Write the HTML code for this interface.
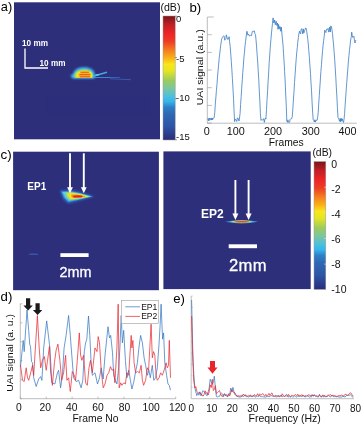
<!DOCTYPE html>
<html lang="en"><head><meta charset="utf-8"><title>Figure</title>
<style>html,body{margin:0;padding:0;background:#fff;}body{width:361px;height:425px;overflow:hidden;}svg text{white-space:pre;}</style></head>
<body>
<svg width="361" height="425" viewBox="0 0 361 425" font-family='"Liberation Sans", Arial, sans-serif' style="display:block">
<defs>
<linearGradient id="cbA" x1="0" y1="0" x2="0" y2="1">
<stop offset="0" stop-color="#7a1518"/>
<stop offset="0.07" stop-color="#c02026"/>
<stop offset="0.14" stop-color="#ee2425"/>
<stop offset="0.205" stop-color="#ef3b24"/>
<stop offset="0.272" stop-color="#f47a20"/>
<stop offset="0.34" stop-color="#fbb216"/>
<stop offset="0.39" stop-color="#f8e71c"/>
<stop offset="0.44" stop-color="#e6e621"/>
<stop offset="0.52" stop-color="#9ccb5e"/>
<stop offset="0.58" stop-color="#7cc79a"/>
<stop offset="0.65" stop-color="#4abfe0"/>
<stop offset="0.69" stop-color="#35b5ea"/>
<stop offset="0.735" stop-color="#2d80c8"/>
<stop offset="0.79" stop-color="#2f68b4"/>
<stop offset="0.89" stop-color="#2e55a5"/>
<stop offset="0.96" stop-color="#2b3a8a"/>
<stop offset="1" stop-color="#2a2d75"/>
</linearGradient>
<filter id="b1" x="-30%" y="-30%" width="160%" height="160%"><feGaussianBlur stdDeviation="1"/></filter>
<filter id="b07" x="-30%" y="-30%" width="160%" height="160%"><feGaussianBlur stdDeviation="0.7"/></filter>
<filter id="b05" x="-30%" y="-50%" width="160%" height="200%"><feGaussianBlur stdDeviation="0.5"/></filter>
<filter id="b15" x="-30%" y="-30%" width="160%" height="160%"><feGaussianBlur stdDeviation="1.5"/></filter>
</defs>
<rect width="361" height="425" fill="#fff"/>
<rect x="14" y="2.3" width="146" height="137" fill="#2d2f7b"/>
<rect x="46" y="95" width="104.5" height="20" fill="#2c2e7e" opacity="0.7"/>
<g>
<path d="M92 77.2L112 77.6" stroke="#3c86d6" stroke-width="1.6" fill="none" filter="url(#b07)"/>
<path d="M110 77.6L120 77.9" stroke="#3768be" stroke-width="1.2" fill="none" filter="url(#b07)"/>
<path d="M92.5 76.2L100 74.2L107 72.2" stroke="#48a4e4" stroke-width="1.5" fill="none" filter="url(#b07)"/>
<path d="M93 76L99 74.5" stroke="#5cc8ea" stroke-width="1.4" fill="none" filter="url(#b07)"/>
<path d="M110 78.8L131 79.7" stroke="#3a5cb4" stroke-width="0.9" fill="none" filter="url(#b05)"/>
<path d="M70.3 75.4L72 78.6H95V75C95 69.5 90 67 84 67C77 67 73.5 70.3 73 74.3Z" fill="#3a7fd2" filter="url(#b1)"/>
<path d="M71.3 75.5L73.5 78H93.8V75C93.8 70.4 89.5 68.3 84 68.3C78 68.3 74.4 71 74 74.6Z" fill="#4fcfe2" filter="url(#b1)"/>
<path d="M74.6 77.8H92.8V75C92.8 71.3 89 69.5 84 69.5C79 69.5 75 71.4 74.6 75Z" fill="#9fd868" filter="url(#b07)"/>
<path d="M76 77.6H92V75C92 72.2 88.8 70.8 84.2 70.8C79.6 70.8 76.2 72.4 76 75Z" fill="#f4de22" filter="url(#b07)"/>
<path d="M78.4 77.2H90.6V74.8C90.6 72.8 88 71.7 84.6 71.7C81 71.7 78.4 73 78.4 75Z" fill="#f8b81e" filter="url(#b07)"/>
<path d="M80.5 72.2H89M79.5 74.7H90.3M80 76.8H90" stroke="#ec4a28" stroke-width="1" fill="none" filter="url(#b05)"/>
</g>
<path d="M25 48.5V68H48" stroke="#fff" stroke-width="1.3" fill="none"/>
<text x="22" y="46.3" font-size="8.2" font-weight="bold" fill="#fff">10 mm</text>
<text x="39.5" y="65.8" font-size="8.2" font-weight="bold" fill="#fff">10 mm</text>
<text x="0.8" y="10.6" font-size="12.8" fill="#000">a)</text>
<rect x="163" y="16" width="12.2" height="124" fill="url(#cbA)"/>
<rect x="163" y="16" width="12.2" height="124" fill="none" stroke="#9a9a9a" stroke-width="0.5"/>
<path d="M175.2 16.2H177" stroke="#555" stroke-width="0.6"/>
<path d="M175.2 57.5H177" stroke="#555" stroke-width="0.6"/>
<path d="M175.2 98.7H177" stroke="#555" stroke-width="0.6"/>
<path d="M175.2 139.8H177" stroke="#555" stroke-width="0.6"/>
<text x="160.4" y="11.4" font-size="10.6" fill="#111">(dB)</text>
<text x="176" y="22.3" font-size="9.5" fill="#111">0</text>
<text x="176" y="62" font-size="9.5" fill="#111">-5</text>
<text x="176" y="100.8" font-size="9.5" fill="#111">-10</text>
<text x="176" y="140.4" font-size="9.5" fill="#111">-15</text>
<text x="189.4" y="12.2" font-size="13.2" fill="#000">b)</text>
<path d="M207.3 17V123.2H356.8" stroke="#a0a0a0" stroke-width="0.7" fill="none"/>
<path d="M207.3 17.0h6.5" stroke="#a0a0a0" stroke-width="0.7"/>
<path d="M207.3 34.7h4.5" stroke="#a0a0a0" stroke-width="0.7"/>
<path d="M207.3 52.4h4.5" stroke="#a0a0a0" stroke-width="0.7"/>
<path d="M207.3 70.0h4.5" stroke="#a0a0a0" stroke-width="0.7"/>
<path d="M207.3 87.7h4.5" stroke="#a0a0a0" stroke-width="0.7"/>
<path d="M207.3 105.4h4.5" stroke="#a0a0a0" stroke-width="0.7"/>
<path d="M207.3 123.1h4.5" stroke="#a0a0a0" stroke-width="0.7"/>
<path d="M207.6 119.3L208.2 118.4L208.7 120.8L209.3 118.0L209.8 120.3L210.4 119.5L210.9 118.0L211.5 120.1L212.0 117.9L212.6 119.8L213.1 118.0L213.7 118.1L214.2 117.5L214.8 112.2L215.3 104.1L215.9 97.1L216.4 90.6L217.0 84.2L217.5 77.0L218.1 70.3L218.6 65.1L219.2 58.2L219.7 54.2L220.3 48.8L220.8 44.5L221.4 40.9L221.9 38.2L222.5 37.3L223.0 36.5L223.6 35.8L224.1 36.0L224.7 40.2L225.2 39.5L225.8 38.8L226.3 34.8L226.9 36.8L227.4 39.1L228.0 39.6L228.5 39.1L229.1 36.7L229.6 41.7L230.2 46.6L230.7 53.2L231.3 61.4L231.8 68.8L232.4 78.6L232.9 87.1L233.5 98.2L234.0 109.7L234.6 121.6L235.1 119.3L235.7 119.4L236.2 120.1L236.8 121.5L237.3 118.0L237.9 118.1L238.4 119.0L239.0 121.0L239.5 118.0L240.1 113.3L240.6 104.4L241.2 96.4L241.7 88.2L242.3 79.7L242.8 72.3L243.4 65.2L243.9 57.6L244.5 52.2L245.0 45.8L245.6 41.3L246.1 37.1L246.7 31.5L247.2 31.4L247.8 35.1L248.3 34.0L248.9 34.8L249.4 36.0L250.0 35.8L250.5 35.2L251.1 35.0L251.6 35.6L252.2 31.8L252.7 31.2L253.3 31.7L253.8 30.8L254.4 31.0L254.9 33.6L255.5 34.8L256.0 39.7L256.6 46.9L257.1 54.2L257.7 61.8L258.2 70.8L258.8 80.1L259.3 91.0L259.9 102.2L260.4 113.6L261.0 120.4L261.5 119.6L262.1 119.6L262.6 120.0L263.2 119.6L263.7 118.6L264.3 122.4L264.8 119.8L265.4 118.2L265.9 119.1L266.5 109.5L267.0 100.5L267.6 90.8L268.1 81.7L268.7 71.9L269.2 62.3L269.8 54.1L270.3 46.5L270.9 39.8L271.4 34.0L272.0 28.0L272.5 23.2L273.1 17.9L273.6 23.0L274.2 22.4L274.7 20.0L275.3 24.8L275.8 21.9L276.4 21.3L276.9 25.6L277.5 23.0L278.0 29.3L278.6 24.4L279.1 29.2L279.7 26.6L280.2 26.7L280.8 31.3L281.3 27.1L281.9 33.4L282.4 38.9L283.0 44.9L283.5 53.2L284.1 61.8L284.6 71.3L285.2 82.1L285.7 94.0L286.3 106.4L286.8 121.0L287.4 122.3L287.9 119.8L288.5 122.2L289.0 122.4L289.6 122.3L290.1 119.5L290.7 118.8L291.2 118.8L291.8 118.6L292.3 116.1L292.9 108.3L293.4 100.1L294.0 91.4L294.5 82.5L295.1 74.6L295.6 67.1L296.2 58.9L296.7 53.1L297.3 47.5L297.8 42.1L298.4 37.6L298.9 33.5L299.5 31.2L300.0 33.1L300.6 33.9L301.1 29.6L301.7 28.6L302.2 30.8L302.8 33.9L303.3 28.9L303.9 32.9L304.4 31.2L305.0 29.9L305.5 28.1L306.1 28.2L306.6 30.7L307.2 34.6L307.7 38.6L308.3 44.2L308.8 50.6L309.4 57.6L309.9 65.8L310.5 73.6L311.0 82.8L311.6 91.9L312.1 103.0L312.7 112.9L313.2 119.9L313.8 120.5L314.3 122.0L314.9 119.7L315.4 122.1L316.0 120.1L316.5 120.3L317.1 120.2L317.6 117.8L318.2 112.8L318.7 104.1L319.3 95.3L319.8 88.0L320.4 78.9L320.9 71.4L321.5 64.3L322.0 57.2L322.6 50.6L323.1 45.2L323.7 40.3L324.2 36.5L324.8 30.1L325.3 31.6L325.9 32.6L326.4 30.0L327.0 28.9L327.5 29.4L328.1 28.3L328.6 32.0L329.2 31.6L329.7 27.1L330.3 32.0L330.8 25.9L331.4 26.7L331.9 29.2L332.5 33.5L333.0 39.2L333.6 45.0L334.1 51.5L334.7 59.3L335.2 67.4L335.8 77.3L336.3 87.1L336.9 96.9L337.4 107.3L338.0 117.6L338.5 118.4L339.1 119.9L339.6 121.3L340.2 118.2L340.7 121.9L341.3 118.5L341.8 120.9L342.4 118.8L342.9 121.1L343.5 122.5L344.0 119.6L344.6 113.4L345.1 105.6L345.7 97.3L346.2 89.9L346.8 82.2L347.3 75.0L347.9 68.3L348.4 61.2L349.0 55.3L349.5 49.5L350.1 45.5L350.6 40.0L351.2 37.5L351.7 32.2L352.3 35.7L352.8 37.5L353.4 36.9L353.9 36.2L354.5 41.3L355.0 43.0L355.6 40.4L356.1 40.9" stroke="#2f74c0" stroke-width="0.75" fill="none" stroke-linejoin="round"/>
<text x="206.7" y="135.2" font-size="10.8" text-anchor="middle" fill="#111">0</text>
<text x="235.7" y="135.2" font-size="10.8" text-anchor="middle" fill="#111">100</text>
<text x="272.9" y="135.2" font-size="10.8" text-anchor="middle" fill="#111">200</text>
<text x="310.7" y="135.2" font-size="10.8" text-anchor="middle" fill="#111">300</text>
<text x="347.5" y="135.2" font-size="10.8" text-anchor="middle" fill="#111">400</text>
<text x="286.2" y="145.6" font-size="10.3" text-anchor="middle" fill="#111">Frames</text>
<text transform="translate(202.7 67.3) rotate(-90) scale(1.14 1)" font-size="9.3" text-anchor="middle" fill="#111">UAI signal (a.u.)</text>
<rect x="13.1" y="151.7" width="145.8" height="138.5" fill="#2d2f7b"/>
<rect x="163.4" y="151.4" width="147.3" height="137.7" fill="#2d2f7b"/>
<text x="0.6" y="158.9" font-size="13.4" fill="#000">c)</text>
<g>
<path d="M60 190.6L70 190.1L79 191.5L94.3 196.6L80 200.6L68 203.4L63 199Z" fill="#3268c2" filter="url(#b1)"/>
<path d="M61.2 191.4L70 191.1L79 192.8L92.6 196.6L79 199.8L68.4 201.9L64 197.8Z" fill="#3f9ee2" filter="url(#b07)"/>
<path d="M62.6 192L71 191.9L79.5 193.3L91 196.6L78.5 199.2L69 200.7L65.2 197.2Z" fill="#5cd0d4" filter="url(#b07)"/>
<path d="M65.5 192.8L72 192.5L80 193.9L89.6 196.6L78.3 198.7L69.8 199.8L67 196.8Z" fill="#b4dc58" filter="url(#b07)"/>
<path d="M67.6 193.3L73 193L80.5 194.3L88.6 196.6L78 198.3L70.6 199L68.6 196.6Z" fill="#f6e020" filter="url(#b05)"/>
<path d="M71.5 194.6L78 194.8L86 196.6L76 198L71.5 197.4Z" fill="#f28a22" filter="url(#b05)"/>
<ellipse cx="77.8" cy="196.4" rx="4.8" ry="1.2" fill="#e02a26" filter="url(#b05)"/>
</g>
<path d="M70 153.3V188.3" stroke="#fff" stroke-width="1.9" fill="none"/><path d="M67.1 187.3H72.9L70 193.3Z" fill="#fff"/>
<path d="M83.8 153.3V188.3" stroke="#fff" stroke-width="1.9" fill="none"/><path d="M80.9 187.3H86.7L83.8 193.3Z" fill="#fff"/>
<text x="27.3" y="190" font-size="10" font-weight="bold" fill="#fff">EP1</text>
<rect x="60.4" y="253.2" width="28.2" height="3.8" fill="#fff"/>
<text x="59.6" y="277.4" font-size="14.4" fill="#fff" stroke="#fff" stroke-width="0.3">2mm</text>
<ellipse cx="33.5" cy="254.2" rx="5" ry="0.6" fill="#3d5fb5" filter="url(#b05)"/>
<g>
<path d="M225.5 221.8Q241.5 218.2 258 221.8Q241.5 225.2 225.5 221.8Z" fill="#3aa4e4" filter="url(#b05)"/>
<path d="M230 221.8Q241.5 219.4 253 221.8Q241.5 224 230 221.8Z" fill="#e8e230" filter="url(#b05)"/>
<ellipse cx="241.7" cy="221.8" rx="7.5" ry="0.8" fill="#e8402a" filter="url(#b05)"/>
</g>
<path d="M235.4 180V214.5" stroke="#fff" stroke-width="1.9" fill="none"/><path d="M232.4 213.5H238.4L235.4 220Z" fill="#fff"/>
<path d="M248.6 180V214.5" stroke="#fff" stroke-width="1.9" fill="none"/><path d="M245.6 213.5H251.6L248.6 220Z" fill="#fff"/>
<text x="201" y="217.5" font-size="12" font-weight="bold" fill="#fff">EP2</text>
<rect x="228.7" y="244.3" width="28.3" height="3.9" fill="#fff"/>
<text x="229" y="271.2" font-size="16.6" letter-spacing="0.3" fill="#fff" stroke="#fff" stroke-width="0.3">2mm</text>
<rect x="314" y="161.6" width="11.8" height="127.8" fill="url(#cbA)"/>
<rect x="314" y="161.6" width="11.8" height="127.8" fill="none" stroke="#9a9a9a" stroke-width="0.5"/>
<path d="M324 187.2h2" stroke="#ddd" stroke-width="0.6"/>
<path d="M324 212.8h2" stroke="#ddd" stroke-width="0.6"/>
<path d="M324 238.5h2" stroke="#ddd" stroke-width="0.6"/>
<path d="M324 264.1h2" stroke="#ddd" stroke-width="0.6"/>
<text x="312.4" y="156.2" font-size="10.4" fill="#111">(dB)</text>
<text x="331.3" y="168.0" font-size="10.5" fill="#111">0</text>
<text x="331.3" y="193.1" font-size="10.5" fill="#111">-2</text>
<text x="331.3" y="217.9" font-size="10.5" fill="#111">-4</text>
<text x="331.3" y="242.9" font-size="10.5" fill="#111">-6</text>
<text x="331.3" y="268.4" font-size="10.5" fill="#111">-8</text>
<text x="331.3" y="292.5" font-size="10.5" fill="#111">-10</text>
<text x="0.6" y="300.5" font-size="13.2" fill="#000">d)</text>
<path d="M20.3 303.8V398.7H175.7" stroke="#a0a0a0" stroke-width="0.7" fill="none"/>
<path d="M20.3 303.8h2" stroke="#a0a0a0" stroke-width="0.7"/>
<path d="M20.3 322.8h2" stroke="#a0a0a0" stroke-width="0.7"/>
<path d="M20.3 341.8h2" stroke="#a0a0a0" stroke-width="0.7"/>
<path d="M20.3 360.7h2" stroke="#a0a0a0" stroke-width="0.7"/>
<path d="M20.3 379.7h2" stroke="#a0a0a0" stroke-width="0.7"/>
<path d="M20.3 398.7h2" stroke="#a0a0a0" stroke-width="0.7"/>
<path d="M20.3 398.7v-2" stroke="#a0a0a0" stroke-width="0.7"/>
<path d="M46.2 398.7v-2" stroke="#a0a0a0" stroke-width="0.7"/>
<path d="M72.1 398.7v-2" stroke="#a0a0a0" stroke-width="0.7"/>
<path d="M98.0 398.7v-2" stroke="#a0a0a0" stroke-width="0.7"/>
<path d="M123.9 398.7v-2" stroke="#a0a0a0" stroke-width="0.7"/>
<path d="M149.8 398.7v-2" stroke="#a0a0a0" stroke-width="0.7"/>
<path d="M175.7 398.7v-2" stroke="#a0a0a0" stroke-width="0.7"/>
<path d="M20.5 366.6L23.2 340.4L24.2 351.6L27.0 310.0L28.7 330.4L29.7 344.1L30.5 346.6L31.5 361.6L32.5 362.8L33.7 377.8L36.2 386.5L38.7 379.0L40.7 376.5L41.9 380.3L43.7 347.9L46.7 320.9L48.7 337.9L49.9 347.9L51.9 382.8L54.9 384.0L57.4 372.8L58.6 370.3L60.6 387.8L62.4 375.3L64.1 347.9L66.1 335.4L68.6 315.5L70.3 335.4L71.8 355.3L73.6 377.8L76.1 381.5L78.6 380.3L81.1 387.8L82.8 380.3L84.3 351.6L85.6 342.9L86.8 339.1L88.5 316.0L89.8 335.4L91.0 360.3L92.3 375.3L95.0 372.8L97.5 384.0L99.5 377.8L101.2 367.8L103.2 379.0L105.0 355.3L108.0 326.7L109.5 337.9L110.7 335.4L112.5 352.8L113.7 375.3L115.4 380.3L116.9 384.0L118.7 367.8L119.9 347.9L121.2 315.5L122.4 342.9L123.7 330.4L125.4 360.3L126.9 377.8L128.7 370.3L130.4 380.3L131.9 389.0L133.6 382.8L135.4 372.8L137.4 362.8L138.9 347.9L140.6 335.4L142.4 342.9L144.1 357.8L145.6 365.3L147.4 375.3L148.9 370.3L150.3 377.8L152.3 365.3L153.8 380.3L155.6 377.8L157.3 367.8L159.1 342.9L160.1 325.4L161.1 304.2L162.1 327.9L162.6 339.1L163.6 332.9L164.8 362.8L166.6 375.3L168.0 384.0L169.3 385.3L170.5 390.2" stroke="#2f74c0" stroke-width="0.72" fill="none" stroke-linejoin="round"/>
<path d="M20.5 365.3L22.5 380.3L24.2 381.5L26.2 367.8L27.5 377.8L28.7 380.3L30.7 372.8L32.5 365.3L33.7 375.3L35.4 347.9L37.4 315.5L39.2 347.9L40.7 367.8L42.4 360.3L44.4 356.6L46.2 370.3L47.4 361.6L49.4 346.6L50.7 372.8L52.4 385.3L54.4 362.8L56.1 350.4L57.9 344.1L59.9 360.3L61.6 380.3L63.6 372.8L65.6 355.3L66.9 380.3L68.6 377.8L70.3 391.5L72.3 371.5L74.3 375.3L75.6 380.3L77.3 360.3L79.3 332.9L80.6 355.3L81.8 360.3L83.6 355.3L85.6 382.8L87.3 385.3L89.0 367.8L90.5 360.3L92.3 372.8L95.0 347.9L97.0 351.6L98.2 336.6L99.5 342.9L101.2 370.3L103.2 387.8L105.0 384.0L107.0 375.3L108.7 372.8L110.5 366.6L112.0 370.3L113.7 369.1L114.9 382.8L116.9 347.9L118.2 304.2L119.2 387.8L120.7 382.8L121.9 385.3L123.7 382.8L125.4 384.0L126.9 372.8L128.7 375.3L129.9 355.3L131.2 335.4L131.9 347.9L132.9 340.4L134.1 362.8L135.6 372.8L137.4 371.5L139.4 372.8L141.1 365.3L142.4 380.3L143.6 385.3L145.6 380.3L147.4 367.8L148.6 370.3L149.8 347.9L151.1 324.2L152.3 357.8L153.6 351.6L154.8 355.3L156.1 375.3L157.3 380.3L159.1 377.8L160.6 372.8L162.3 375.3L164.1 370.3L166.1 362.8L167.3 367.8L168.5 365.3L169.3 340.4L170.5 377.8" stroke="#e8242c" stroke-width="0.72" fill="none" stroke-linejoin="round"/>
<path d="M26.0 298.3H30.2V305.4H32.8L28.1 310.4L23.4 305.4H26.0Z" fill="#1a1a1a"/>
<path d="M35.5 303.3H39.7V310.0H42.3L37.6 315L32.9 310.0H35.5Z" fill="#1a1a1a"/>
<text x="18.8" y="411" font-size="10.3" text-anchor="middle" fill="#111">0</text>
<text x="45.2" y="411" font-size="10.3" text-anchor="middle" fill="#111">20</text>
<text x="71.7" y="411" font-size="10.3" text-anchor="middle" fill="#111">40</text>
<text x="98.1" y="411" font-size="10.3" text-anchor="middle" fill="#111">60</text>
<text x="124.6" y="411" font-size="10.3" text-anchor="middle" fill="#111">80</text>
<text x="151.1" y="411" font-size="10.3" text-anchor="middle" fill="#111">100</text>
<text x="177.5" y="411" font-size="10.3" text-anchor="middle" fill="#111">120</text>
<text x="95.5" y="421.8" font-size="10.35" text-anchor="middle" fill="#111">Frame No</text>
<text transform="translate(12.7 352.9) rotate(-90) scale(1.126 1)" font-size="9.3" text-anchor="middle" fill="#111">UAI signal (a. u.)</text>
<rect x="121.4" y="300.4" width="37.1" height="22.9" fill="#fff" stroke="#9c9c9c" stroke-width="0.6"/>
<path d="M125.3 306.8H140" stroke="#2f74c0" stroke-width="0.7"/>
<path d="M125.3 316.4H140" stroke="#e8242c" stroke-width="0.7"/>
<text x="141.2" y="309.8" font-size="8.5" fill="#111">EP1</text>
<text x="141.2" y="319.3" font-size="8.5" fill="#111">EP2</text>
<text x="173.2" y="303.1" font-size="13.2" fill="#000">e)</text>
<path d="M191.2 296V398.7H354" stroke="#a0a0a0" stroke-width="0.7" fill="none"/>
<path d="M191.2 296.0h1.6" stroke="#a0a0a0" stroke-width="0.5"/>
<path d="M191.2 307.4h1.6" stroke="#a0a0a0" stroke-width="0.5"/>
<path d="M191.2 318.8h1.6" stroke="#a0a0a0" stroke-width="0.5"/>
<path d="M191.2 330.2h1.6" stroke="#a0a0a0" stroke-width="0.5"/>
<path d="M191.2 341.6h1.6" stroke="#a0a0a0" stroke-width="0.5"/>
<path d="M191.2 353.0h1.6" stroke="#a0a0a0" stroke-width="0.5"/>
<path d="M191.2 364.4h1.6" stroke="#a0a0a0" stroke-width="0.5"/>
<path d="M191.2 375.8h1.6" stroke="#a0a0a0" stroke-width="0.5"/>
<path d="M191.2 387.2h1.6" stroke="#a0a0a0" stroke-width="0.5"/>
<path d="M191.6 300.0L192.7 348.0L193.8 375.0L194.9 388.0L195.8 391.7L196.8 395.6L197.9 393.1L198.9 395.2L199.9 391.8L201.0 395.9L202.0 392.9L203.0 390.6L204.0 391.8L205.1 392.7L206.1 395.0L207.1 395.8L208.2 391.9L209.2 387.8L210.2 379.2L211.3 381.8L212.3 384.2L213.3 382.5L214.3 376.2L215.4 387.9L216.4 396.5L217.4 396.9L218.5 396.4L219.5 396.3L220.5 394.1L221.6 393.1L222.6 394.0L223.6 396.7L224.6 393.7L225.7 395.9L226.7 394.5L227.7 397.0L228.8 394.2L229.8 394.0L230.8 388.0L231.9 391.9L232.9 387.3L233.9 391.6L234.9 394.7L236.0 395.1L237.0 396.8L238.0 396.2L239.1 397.2L240.1 396.7L241.1 397.1L242.2 395.7L243.2 396.4L244.2 396.1L245.2 394.5L246.3 396.6L247.3 396.3L248.3 397.3L249.4 395.9L250.4 396.4L251.4 395.9L252.5 397.1L253.5 395.5L254.5 396.4L255.5 397.1L256.6 396.2L257.6 396.3L258.6 396.7L259.7 395.1L260.7 396.8L261.7 396.6L262.7 396.6L263.8 396.9L264.8 397.0L265.8 397.1L266.9 396.5L267.9 396.0L268.9 396.8L270.0 396.5L271.0 395.4L272.0 396.1L273.0 396.0L274.1 396.3L275.1 396.4L276.1 397.1L277.2 396.3L278.2 395.1L279.2 396.9L280.3 396.4L281.3 394.9L282.3 397.0L283.3 396.1L284.4 396.2L285.4 395.9L286.4 394.3L287.5 395.1L288.5 397.1L289.5 396.4L290.6 397.1L291.6 396.2L292.6 397.2L293.6 396.8L294.7 395.9L295.7 396.4L296.7 397.2L297.8 395.7L298.8 396.4L299.8 396.3L300.9 396.0L301.9 396.9L302.9 395.1L303.9 396.2L305.0 397.0L306.0 396.7L307.0 395.4L308.1 396.1L309.1 397.3L310.1 396.5L311.2 397.1L312.2 394.5L313.2 396.3L314.2 394.5L315.3 396.1L316.3 396.2L317.3 396.8L318.4 397.0L319.4 394.3L320.4 396.6L321.5 397.2L322.5 395.4L323.5 397.2L324.5 395.1L325.6 396.5L326.6 396.7L327.6 396.4L328.7 395.6L329.7 396.5L330.7 396.9L331.8 395.1L332.8 396.4L333.8 396.6L334.8 396.7L335.9 396.6L336.9 396.9L337.9 396.4L339.0 397.2L340.0 396.9L341.0 397.2L342.1 396.8L343.1 396.3L344.1 396.7L345.1 397.0L346.2 395.7L347.2 395.4L348.2 395.3L349.3 395.2L350.3 394.7L351.3 395.5L352.4 397.1L353.4 397.1" stroke="#2f74c0" stroke-width="0.72" fill="none" stroke-linejoin="round"/>
<path d="M191.6 316.0L192.7 358.0L193.8 381.0L194.9 388.0L195.8 386.7L196.8 391.2L197.9 392.8L198.9 393.0L199.9 392.5L201.0 394.4L202.0 394.7L203.0 396.2L204.0 394.7L205.1 390.8L206.1 393.4L207.1 392.5L208.2 395.0L209.2 391.8L210.2 384.9L211.3 387.6L212.3 379.3L213.3 390.6L214.3 389.4L215.4 385.7L216.4 393.7L217.4 392.7L218.5 391.6L219.5 390.5L220.5 393.6L221.6 396.2L222.6 396.5L223.6 394.6L224.6 393.9L225.7 395.3L226.7 396.3L227.7 395.9L228.8 393.7L229.8 395.9L230.8 392.5L231.9 389.6L232.9 392.0L233.9 392.2L234.9 392.7L236.0 394.8L237.0 396.2L238.0 395.6L239.1 396.1L240.1 396.1L241.1 395.4L242.2 396.3L243.2 394.1L244.2 395.4L245.2 395.9L246.3 395.4L247.3 396.3L248.3 395.4L249.4 396.3L250.4 394.8L251.4 396.6L252.5 395.9L253.5 396.1L254.5 394.5L255.5 396.1L256.6 395.7L257.6 393.7L258.6 395.7L259.7 393.9L260.7 394.8L261.7 394.8L262.7 393.5L263.8 395.3L264.8 396.1L265.8 394.3L266.9 396.3L267.9 395.3L268.9 393.4L270.0 395.5L271.0 393.7L272.0 392.9L273.0 395.7L274.1 396.6L275.1 395.4L276.1 395.4L277.2 396.4L278.2 396.4L279.2 396.1L280.3 395.8L281.3 396.4L282.3 393.8L283.3 395.4L284.4 396.5L285.4 396.0L286.4 395.9L287.5 396.5L288.5 394.4L289.5 396.0L290.6 396.6L291.6 395.3L292.6 395.5L293.6 395.8L294.7 395.2L295.7 394.5L296.7 395.6L297.8 394.2L298.8 396.1L299.8 395.4L300.9 395.8L301.9 394.5L302.9 396.0L303.9 395.9L305.0 396.3L306.0 395.4L307.0 396.4L308.1 395.1L309.1 394.5L310.1 395.9L311.2 395.3L312.2 395.5L313.2 395.8L314.2 395.3L315.3 396.1L316.3 395.8L317.3 396.1L318.4 396.5L319.4 395.2L320.4 396.0L321.5 396.5L322.5 395.1L323.5 395.3L324.5 396.4L325.6 396.6L326.6 396.5L327.6 395.1L328.7 395.1L329.7 395.1L330.7 394.7L331.8 396.1L332.8 394.9L333.8 396.0L334.8 395.4L335.9 396.2L336.9 396.4L337.9 396.2L339.0 395.3L340.0 396.0L341.0 395.2L342.1 395.2L343.1 396.1L344.1 395.8L345.1 394.2L346.2 394.5L347.2 395.3L348.2 395.4L349.3 393.6L350.3 392.8L351.3 393.3L352.4 395.6L353.4 396.0" stroke="#e8242c" stroke-width="0.72" fill="none" stroke-linejoin="round"/>
<path d="M210.0 361H215.0V367.5H217.5L212.5 373.8L207.5 367.5H210.0Z" fill="#e8242c"/>
<text x="191.2" y="411.8" font-size="10" text-anchor="middle" fill="#111">0</text>
<text x="211.8" y="411.8" font-size="10" text-anchor="middle" fill="#111">10</text>
<text x="232.3" y="411.8" font-size="10" text-anchor="middle" fill="#111">20</text>
<text x="252.8" y="411.8" font-size="10" text-anchor="middle" fill="#111">30</text>
<text x="273.4" y="411.8" font-size="10" text-anchor="middle" fill="#111">40</text>
<text x="293.9" y="411.8" font-size="10" text-anchor="middle" fill="#111">50</text>
<text x="314.5" y="411.8" font-size="10" text-anchor="middle" fill="#111">60</text>
<text x="335.0" y="411.8" font-size="10" text-anchor="middle" fill="#111">70</text>
<text x="355.6" y="411.8" font-size="10" text-anchor="middle" fill="#111">80</text>
<text x="284.7" y="422.2" font-size="10.5" text-anchor="middle" fill="#111">Frequency (Hz)</text>
</svg>
</body></html>
